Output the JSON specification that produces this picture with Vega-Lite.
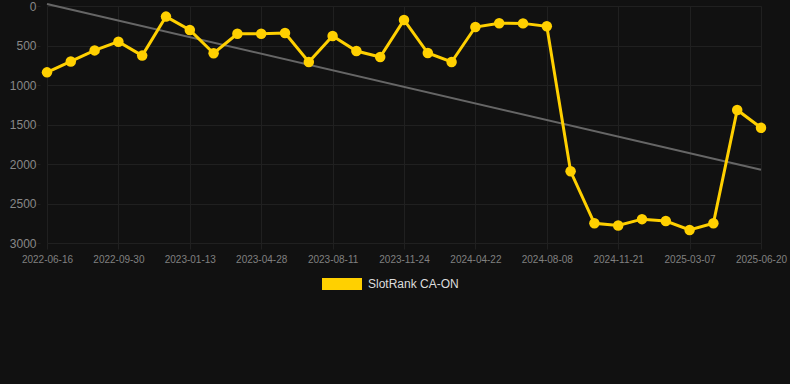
{
  "$schema": "https://vega.github.io/schema/vega-lite/v6.json",
  "autosize": "none",
  "width": 750,
  "height": 237,
  "padding": {"left": 40, "top": 6, "right": 0, "bottom": 141},
  "background": "#111111",
  "config": {
    "view": {"stroke": null},
    "font": "Liberation Sans",
    "axis": {"gridColor": "#202020", "tickColor": "#202020", "domain": false, "labelColor": "#888888", "labelFont": "Liberation Sans"}
  },
  "datasets": {
    "rank": [
      {"date": "2022-06-16", "rank": 840, "series": "SlotRank CA-ON"},
      {"date": "2022-07-21", "rank": 702, "series": "SlotRank CA-ON"},
      {"date": "2022-08-25", "rank": 562, "series": "SlotRank CA-ON"},
      {"date": "2022-09-30", "rank": 452, "series": "SlotRank CA-ON"},
      {"date": "2022-11-04", "rank": 628, "series": "SlotRank CA-ON"},
      {"date": "2022-12-09", "rank": 134, "series": "SlotRank CA-ON"},
      {"date": "2023-01-13", "rank": 304, "series": "SlotRank CA-ON"},
      {"date": "2023-02-17", "rank": 598, "series": "SlotRank CA-ON"},
      {"date": "2023-03-24", "rank": 352, "series": "SlotRank CA-ON"},
      {"date": "2023-04-28", "rank": 352, "series": "SlotRank CA-ON"},
      {"date": "2023-06-02", "rank": 342, "series": "SlotRank CA-ON"},
      {"date": "2023-07-07", "rank": 709, "series": "SlotRank CA-ON"},
      {"date": "2023-08-11", "rank": 380, "series": "SlotRank CA-ON"},
      {"date": "2023-09-15", "rank": 570, "series": "SlotRank CA-ON"},
      {"date": "2023-10-20", "rank": 646, "series": "SlotRank CA-ON"},
      {"date": "2023-11-24", "rank": 177, "series": "SlotRank CA-ON"},
      {"date": "2024-01-12", "rank": 595, "series": "SlotRank CA-ON"},
      {"date": "2024-03-01", "rank": 709, "series": "SlotRank CA-ON"},
      {"date": "2024-04-22", "rank": 266, "series": "SlotRank CA-ON"},
      {"date": "2024-05-28", "rank": 218, "series": "SlotRank CA-ON"},
      {"date": "2024-07-03", "rank": 220, "series": "SlotRank CA-ON"},
      {"date": "2024-08-08", "rank": 257, "series": "SlotRank CA-ON"},
      {"date": "2024-09-12", "rank": 2092, "series": "SlotRank CA-ON"},
      {"date": "2024-10-17", "rank": 2750, "series": "SlotRank CA-ON"},
      {"date": "2024-11-21", "rank": 2778, "series": "SlotRank CA-ON"},
      {"date": "2024-12-26", "rank": 2698, "series": "SlotRank CA-ON"},
      {"date": "2025-01-30", "rank": 2722, "series": "SlotRank CA-ON"},
      {"date": "2025-03-07", "rank": 2835, "series": "SlotRank CA-ON"},
      {"date": "2025-04-11", "rank": 2750, "series": "SlotRank CA-ON"},
      {"date": "2025-05-16", "rank": 1316, "series": "SlotRank CA-ON"},
      {"date": "2025-06-20", "rank": 1542, "series": "SlotRank CA-ON"}
    ],
    "trend": [
      {"date": "2022-06-16", "rank": -25},
      {"date": "2025-06-20", "rank": 2072}
    ]
  },
  "encoding": {
    "x": {
      "field": "date", "type": "ordinal", "sort": null,
      "scale": {
        "type": "point", "range": [7, 721], "padding": 0,
        "domain": ["2022-06-16", "2022-07-21", "2022-08-25", "2022-09-30", "2022-11-04", "2022-12-09", "2023-01-13", "2023-02-17", "2023-03-24", "2023-04-28", "2023-06-02", "2023-07-07", "2023-08-11", "2023-09-15", "2023-10-20", "2023-11-24", "2024-01-12", "2024-03-01", "2024-04-22", "2024-05-28", "2024-07-03", "2024-08-08", "2024-09-12", "2024-10-17", "2024-11-21", "2024-12-26", "2025-01-30", "2025-03-07", "2025-04-11", "2025-05-16", "2025-06-20"]
      },
      "axis": {
        "title": null, "labelAngle": 0, "labelAlign": "center", "labelFontSize": 10, "tickSize": 6, "labelPadding": 5, "labelOverlap": false, "labelBound": false, "labelColor": "#808080",
        "values": ["2022-06-16", "2022-09-30", "2023-01-13", "2023-04-28", "2023-08-11", "2023-11-24", "2024-04-22", "2024-08-08", "2024-11-21", "2025-03-07", "2025-06-20"],
        "grid": true
      }
    },
    "y": {
      "field": "rank", "type": "quantitative",
      "scale": {"domain": [0, 3000], "reverse": true, "nice": false, "zero": false},
      "axis": {"title": null, "values": [0, 500, 1000, 1500, 2000, 2500, 3000], "format": "d", "labelOverlap": false, "labelFontSize": 12, "tickSize": 3, "labelPadding": 1}
    }
  },
  "layer": [
    {
      "data": {"name": "trend"},
      "mark": {"type": "line", "color": "#666666", "strokeWidth": 2, "clip": false}
    },
    {
      "data": {"name": "rank"},
      "mark": {"type": "line", "strokeWidth": 3, "point": {"filled": true, "size": 110, "opacity": 1}},
      "encoding": {
        "color": {
          "field": "series", "type": "nominal",
          "scale": {"range": ["#FFD000"]},
          "legend": {
            "title": null, "orient": "none", "legendX": 282, "legendY": 258,
            "symbolType": "M-1,-0.3H1V0.3H-1Z", "symbolSize": 1600, "symbolStrokeWidth": 0,
            "labelColor": "#dddddd", "labelFontSize": 12, "labelFont": "Liberation Sans", "labelOffset": 6
          }
        }
      }
    }
  ]
}
